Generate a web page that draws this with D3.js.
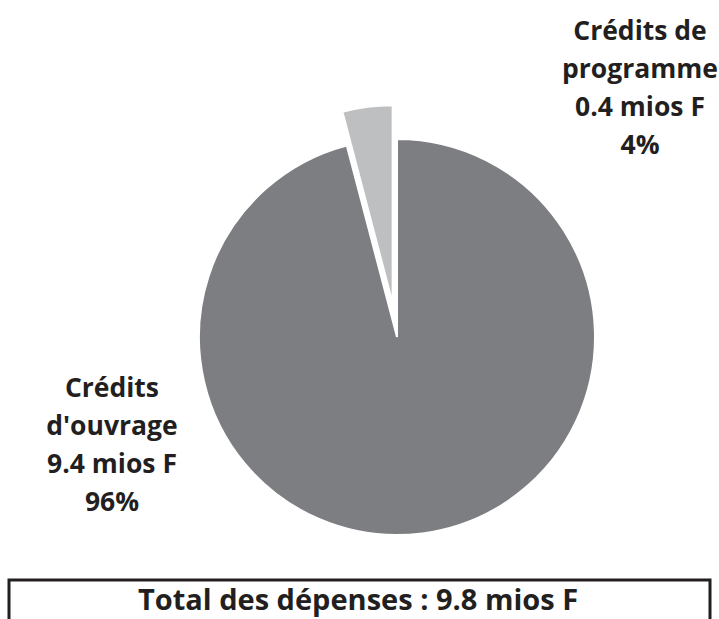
<!DOCTYPE html>
<html>
<head>
<meta charset="utf-8">
<script src="https://cdn.jsdelivr.net/npm/d3@7"></script>
<style>
  body { margin: 0; background: #fff; }
  text { font-family: "Open Sans", Lato, sans-serif; font-weight: bold; fill: #231f20; }
</style>
</head>
<body>
<svg id="chart"></svg>
<script>
// Constant Values
const width = 719;
const height = 619;
const center = { x: 397, y: 337 };
const radius = 198;

// Data
const categories = ["Crédits d'ouvrage", "Crédits de programme"];
const values = [9.4, 0.4];
const percents = ["96%", "4%"];
const labelLines = [
    ["Crédits", "d'ouvrage", "9.4 mios F", "96%"],
    ["Crédits de", "programme", "0.4 mios F", "4%"]
];
const totalLabel = "Total des dépenses : 9.8 mios F";
const colors = ["#7d7e82", "#bebfc1"];
const explode = [0, 34];

const svg = d3.select("#chart")
    .attr("width", width)
    .attr("height", height);

// Pie layout: big slice clockwise from 12 o'clock, small slice closes the circle
const pie = d3.pie()
    .sort(null);

const arc = d3.arc()
    .innerRadius(0)
    .outerRadius(radius);

const g = svg.append("g")
    .attr("transform", `translate(${center.x}, ${center.y})`);

g.selectAll(".slice")
    .data(pie(values))
    .enter()
    .append("path")
    .attr("class", "slice")
    .attr("d", arc)
    .attr("fill", (d, i) => colors[i])
    .attr("stroke", "#fff")
    .attr("stroke-width", 2)
    .attr("transform", (d, i) => {
        const mid = (d.startAngle + d.endAngle) / 2;
        const dx = Math.sin(mid) * explode[i];
        const dy = -Math.cos(mid) * explode[i];
        return `translate(${dx}, ${dy})`;
    });

// Labels
const labelPos = [
    { x: 112, y: 397 },
    { x: 640, y: 40 }
];
const lineStep = 38;

labelLines.forEach((lines, i) => {
    const t = svg.append("text")
        .attr("text-anchor", "middle")
        .attr("font-size", 26.5);
    lines.forEach((line, j) => {
        t.append("tspan")
            .attr("x", labelPos[i].x)
            .attr("y", labelPos[i].y + j * lineStep)
            .text(line);
    });
});

// Total box (bottom edge runs off the picture)
svg.append("path")
    .attr("d", "M9,640 V580 H710 V640")
    .attr("fill", "none")
    .attr("stroke", "#231f20")
    .attr("stroke-width", 3);

svg.append("text")
    .attr("x", 358)
    .attr("y", 610)
    .attr("text-anchor", "middle")
    .attr("font-size", 29)
    .text(totalLabel);
</script>
</body>
</html>
